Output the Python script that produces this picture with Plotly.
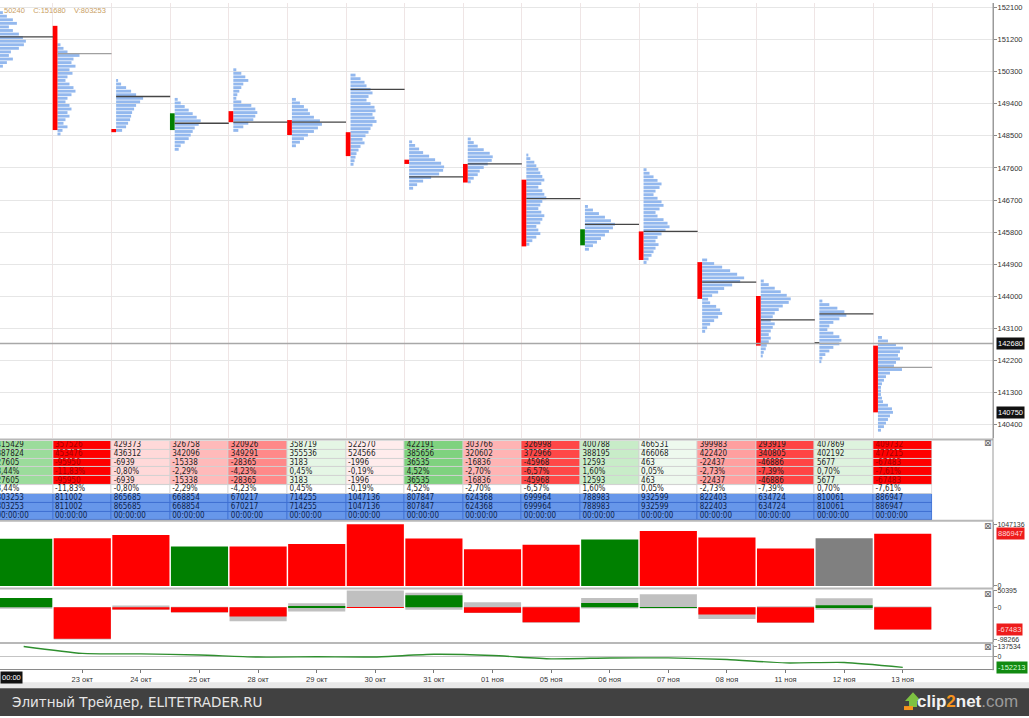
import plotly.graph_objects as go

W, H = 1029, 718
def px(x): return x / W
def py(y): return 1 - y / H

# ---------------- data ----------------
days = ["22 окт", "23 окт", "24 окт", "25 окт", "28 окт", "29 окт", "30 окт", "31 окт",
        "01 ноя", "05 ноя", "06 ноя", "07 ноя", "08 ноя", "11 ноя", "12 ноя", "13 ноя"]
first_label = "00:00"

opens = [150900, 151580, 148690, 148660, 149190, 148940, 148600, 147830,
         147710, 147270, 145430, 145820, 144960, 144010, 142700, 142620]
closes = [151680, 148660, 148600, 149130, 148880, 148520, 147930, 147710,
          147190, 145400, 145880, 145020, 143930, 142620, 142670, 140750]
poc = [151270, 150800, 149600, 148850, 148880, 148880, 149800, 147350,
       147710, 146740, 146020, 145820, 144400, 143340, 143510, 142010]

profile_top = [151950, 151050, 150050, 149520, 150350, 149520, 150200, 148330,
               148410, 147960, 146520, 147550, 145020, 144430, 143870, 142850]
profiles = [
    [4, 8, 14, 18, 10, 14, 20, 24, 27, 25, 20, 12, 10, 14, 8, 4],
    [3, 6, 10, 22, 16, 14, 18, 12, 15, 10, 8, 12, 16, 18, 14, 10, 8, 12, 14, 10, 12, 8, 6, 10, 5, 3],
    [2, 5, 10, 15, 20, 27, 24, 20, 18, 16, 15, 14, 12, 10, 6],
    [3, 6, 10, 14, 18, 22, 26, 24, 20, 18, 16, 14, 10, 6, 4],
    [3, 8, 12, 15, 10, 8, 6, 4, 3, 8, 18, 22, 24, 22, 20, 15, 10, 5],
    [4, 8, 12, 16, 18, 22, 28, 30, 26, 22, 16, 12, 8, 4],
    [5, 10, 14, 16, 20, 22, 18, 16, 20, 24, 25, 22, 24, 26, 22, 20, 18, 15, 12, 14, 10, 8, 6, 5, 4, 3],
    [3, 6, 10, 14, 20, 26, 32, 35, 34, 30, 22, 14, 8, 4],
    [3, 6, 10, 16, 22, 25, 24, 20, 16, 12, 10, 6, 3],
    [2, 4, 8, 10, 12, 14, 16, 18, 15, 12, 16, 18, 20, 16, 14, 12, 15, 18, 16, 14, 10, 12, 14, 10, 6, 3],
    [3, 8, 14, 20, 26, 30, 28, 24, 20, 16, 12, 8, 4],
    [3, 6, 10, 14, 18, 16, 12, 10, 14, 18, 20, 16, 12, 14, 20, 24, 26, 22, 18, 14, 12, 15, 12, 10, 8, 5, 3],
    [5, 12, 20, 28, 35, 42, 38, 30, 22, 16, 10, 6, 8, 14, 18, 20, 16, 12, 8, 5, 3],
    [3, 8, 14, 20, 26, 30, 28, 22, 18, 14, 12, 10, 14, 12, 10, 8, 10, 8, 6, 5, 3, 2],
    [3, 10, 18, 25, 27, 20, 14, 10, 8, 14, 20, 22, 20, 14, 10, 6, 3, 2],
    [4, 10, 18, 25, 22, 20, 22, 18, 16, 24, 12, 8, 6, 4, 3, 3, 3, 4, 5, 10, 14, 15, 12, 10, 8, 6, 3],
]

buy = [415429, 357526, 429373, 326758, 320926, 358719, 522570, 422191,
       303766, 326998, 400788, 466531, 399983, 293919, 407869, 409732]
sell = [387824, 453476, 436312, 342096, 349291, 355536, 524566, 385656,
        320602, 372966, 388195, 466068, 422420, 340805, 402192, 477215]
delta = [27605, -95950, -6939, -15338, -28365, 3183, -1996, 36535,
         -16836, -45968, 12593, 463, -22437, -46886, 5677, -67483]
volume = [803253, 811002, 865685, 668854, 670217, 714255, 1047136, 807847,
          624368, 699964, 788983, 932599, 822403, 634724, 810061, 886947]
delta_low = [-5000, -98266, -8000, -16500, -43000, -13000, -2500, -8000,
             -17500, -47000, -4000, -4000, -36000, -48000, -8000, -68000]
delta_high = [27605, 0, 5000, 1000, 0, 12000, 50395, 44000,
              15000, 2000, 28000, 39000, 0, 3000, 27000, 2000]
cum_delta = [137534, 41584, 34645, 19307, -9058, -5875, -7871, 28664,
             11828, -34140, -21547, -21084, -43521, -90407, -84730, -152213]
price_ticks = [140400, 141300, 142200, 143100, 144000, 144900, 145800, 146700,
               147600, 148500, 149400, 150300, 151200, 152100]
volume_ticks = [0, 1047136]
delta_ticks = [-98266, 0, 50395]
cum_ticks = [0, 137534]
last_price = 142680
low_price = 140750
header = "50240    C:151680    V:803253"

# ---------------- styling constants ----------------
N = len(days)
XR = [-0.404, 16.54]
PROFILE_STEP = 100
PROFILE_SCALE = 1 / 58.6
CANDLE_OFF = 0.036
CANDLE_W = 0.08
PROF_OFF = 0.077
RED, GREEN, GRAY = "#ff0000", "#008000", "#808080"
NARROW = "Liberation Sans Narrow, Arial Narrow, DejaVu Sans Condensed, Liberation Sans, sans-serif"
AXF = dict(family="Liberation Sans, Arial, sans-serif", size=7.5, color="#333333")
AXF_S = dict(family="Liberation Sans, Arial, sans-serif", size=7, color="#333333")

def is_doji(o, c):
    return abs(c - o) <= 30

def candle_color(o, c):
    if is_doji(o, c):
        return "#444444"
    return GREEN if c > o else RED

def vol_color(o, c):
    if is_doji(o, c):
        return GRAY
    return GREEN if c > o else RED

fig = go.Figure()

# ---- price panel: volume profiles ----
py_, px_, pb_ = [], [], []
for i in range(N):
    for k, v in enumerate(profiles[i]):
        py_.append(profile_top[i] - k * PROFILE_STEP)
        px_.append(v * PROFILE_SCALE)
        pb_.append(i - 0.5 + PROF_OFF)
fig.add_trace(go.Bar(orientation="h", y=py_, x=px_, base=pb_, width=80,
                     marker=dict(color="#93b8ee", line=dict(width=0)),
                     xaxis="x", yaxis="y", hoverinfo="skip"))

# candles
fig.add_trace(go.Bar(x=[i - 0.5 + CANDLE_OFF for i in range(N)],
                     base=[min(o, c) for o, c in zip(opens, closes)],
                     y=[abs(c - o) for o, c in zip(opens, closes)],
                     width=CANDLE_W,
                     marker=dict(color=[candle_color(o, c) for o, c in zip(opens, closes)], line=dict(width=0)),
                     xaxis="x", yaxis="y", hoverinfo="skip"))

# POC lines
LIGHT_POC = {1, 15}
for light in (False, True):
    xs, ys = [], []
    for i in range(N):
        if (i in LIGHT_POC) != light:
            continue
        xs += [i - 0.5 + PROF_OFF, i + 0.5, None]
        ys += [poc[i], poc[i], None]
    fig.add_trace(go.Scatter(x=xs, y=ys, mode="lines",
                             line=dict(color="#a0a0a0" if light else "#454545", width=1.3),
                             xaxis="x", yaxis="y", hoverinfo="skip"))

# ---- table ----
fig.add_trace(go.Heatmap(z=[delta] * 5, x=list(range(N)), y=[0, 1, 2, 3, 4],
                         zmin=-65000, zmax=65000,
                         colorscale=[[0, "#ff0000"], [0.4999, "#fff3f3"], [0.5001, "#eff9ef"], [1, "#28b428"]],
                         showscale=False, xgap=1, ygap=1, xaxis="x2", yaxis="y2", hoverinfo="skip"))
fig.add_trace(go.Heatmap(z=[[0] * N], x=list(range(N)), y=[5],
                         colorscale=[[0, "#ffffff"], [1, "#ffffff"]],
                         showscale=False, xgap=1, ygap=1, xaxis="x2", yaxis="y2", hoverinfo="skip"))
fig.add_trace(go.Heatmap(z=[[0] * N] * 3, x=list(range(N)), y=[6, 7, 8],
                         colorscale=[[0, "#6797ea"], [1, "#6797ea"]],
                         showscale=False, xgap=1, ygap=1, xaxis="x2", yaxis="y2", hoverinfo="skip"))

def fmt_pct(d, v):
    return f"{d / v * 100:.2f}%".replace(".", ",")

pct = [fmt_pct(d, v) for d, v in zip(delta, volume)]
rows = [[str(b) for b in buy], [str(s) for s in sell], [str(d) for d in delta], pct,
        [str(d) for d in delta], pct, [str(v) for v in volume], [str(v) for v in volume],
        ["00:00:00"] * N]
tx, ty, tt, tc = [], [], [], []
for r, row in enumerate(rows):
    for i, t in enumerate(row):
        tx.append(i - 0.5 + 0.035)
        ty.append(r)
        tt.append(t)
        if r <= 4 and delta[i] <= -60000:
            tc.append("#a00000")
        elif r >= 6:
            tc.append("#0d1f4a")
        else:
            tc.append("#1e1e1e")
fig.add_trace(go.Scatter(x=tx, y=ty, text=tt, mode="text", textposition="middle right",
                         textfont=dict(family=NARROW, size=8, color=tc), cliponaxis=True,
                         xaxis="x2", yaxis="y2", hoverinfo="skip"))

# ---- volume panel ----
fig.add_trace(go.Bar(x=list(range(N)), y=volume, width=0.975,
                     marker=dict(color=[vol_color(o, c) for o, c in zip(opens, closes)], line=dict(width=0)),
                     xaxis="x3", yaxis="y3", hoverinfo="skip"))

# ---- delta panel ----
fig.add_trace(go.Bar(x=list(range(N)), base=delta_low, y=[h - l for h, l in zip(delta_high, delta_low)],
                     width=0.975, marker=dict(color="#c0c0c0", line=dict(width=0)),
                     xaxis="x4", yaxis="y4", hoverinfo="skip"))
fig.add_trace(go.Bar(x=list(range(N)), y=delta, width=0.975,
                     marker=dict(color=[GREEN if d > 0 else RED for d in delta], line=dict(width=0)),
                     xaxis="x4", yaxis="y4", hoverinfo="skip"))

# ---- cumulative delta line ----
fig.add_trace(go.Scatter(x=list(range(N)), y=cum_delta, mode="lines",
                         line=dict(color="#2f8f2f", width=1.4, shape="spline", smoothing=0.6),
                         xaxis="x5", yaxis="y5", hoverinfo="skip"))

# ---------------- layout ----------------
XD = [0, px(993)]
hidden_x = dict(domain=XD, range=XR, visible=False, fixedrange=True)
RAX = dict(side="right", ticks="outside", ticklen=3, tickcolor="#8a8a8a", tickfont=AXF,
           ticklabelstandoff=-1, zeroline=False, showline=True, linecolor="#9a9a9a")
layout = dict(
    width=W, height=H, margin=dict(l=0, r=0, t=0, b=0, pad=0),
    paper_bgcolor="#ffffff", plot_bgcolor="#ffffff",
    showlegend=False, barmode="overlay", hovermode=False,
    xaxis=dict(domain=XD, range=XR, anchor="y", tickvals=[i + 0.5 for i in range(N)],
               showticklabels=False, ticks="", showgrid=True, gridcolor="#efe5e5",
               gridwidth=1, zeroline=False, showline=False),
    yaxis=dict(RAX, domain=[py(438), 1], range=[140033, 152220], anchor="x",
               tickvals=price_ticks, ticktext=[str(t) for t in price_ticks],
               showgrid=True, gridcolor="#e6e6e6"),
    xaxis2=dict(hidden_x, anchor="y2"),
    yaxis2=dict(domain=[py(521), py(441)], range=[8.5, -0.5], anchor="x2", visible=False),
    xaxis3=dict(hidden_x, anchor="y3"),
    yaxis3=dict(RAX, domain=[py(588), py(523)], range=[-16889, 1080914], anchor="x3",
                tickvals=volume_ticks, ticktext=[str(t) for t in volume_ticks],
                tickfont=AXF_S, showgrid=False),
    xaxis4=dict(hidden_x, anchor="y4"),
    yaxis4=dict(RAX, domain=[py(643), py(591)], range=[-104296, 52506], anchor="x4",
                tickvals=delta_ticks, ticktext=[str(t) for t in delta_ticks],
                tickfont=AXF_S, showgrid=False),
    xaxis5=dict(domain=XD, range=XR, anchor="y5", tickvals=list(range(1, N)),
                ticktext=days[1:], ticks="outside", ticklen=3, tickcolor="#777777",
                tickfont=AXF, showgrid=False, zeroline=False, showline=True,
                linecolor="#8a8a8a", linewidth=1),
    yaxis5=dict(RAX, domain=[py(671), py(646)], range=[-179719, 165040], anchor="x5",
                tickvals=cum_ticks, ticktext=[str(t) for t in cum_ticks],
                tickfont=AXF_S, showgrid=False),
)
layout["yaxis5"].update(zeroline=True, zerolinecolor="#c4c4c4", zerolinewidth=1)
fig.update_layout(**layout)

shapes = []
# table cell border backgrounds
shapes.append(dict(type="rect", xref="x2", yref="y2", x0=-0.5, x1=N - 0.5, y0=-0.5, y1=5.5,
                   fillcolor="#d2d2d2", line=dict(width=0), layer="below"))
shapes.append(dict(type="rect", xref="x2", yref="y2", x0=-0.5, x1=N - 0.5, y0=5.5, y1=8.5,
                   fillcolor="#3e6fd2", line=dict(width=0), layer="below"))
# current price line
shapes.append(dict(type="line", xref="paper", yref="y", x0=0, x1=px(993), y0=last_price, y1=last_price,
                   line=dict(color="#a8a8a8", width=1.5)))
# panel separators
for yy in (439.5, 521.5, 589.5, 644.5):
    shapes.append(dict(type="line", xref="paper", yref="paper", x0=0, x1=px(993), y0=py(yy), y1=py(yy),
                       line=dict(color="#b8b8b8", width=2)))
# right axis continuous line
shapes.append(dict(type="line", xref="paper", yref="paper", x0=px(993), x1=px(993), y0=py(0), y1=py(672),
                   line=dict(color="#9a9a9a", width=1)))
# bottom strips
shapes.append(dict(type="rect", xref="paper", yref="paper", x0=0, x1=1, y0=py(690), y1=py(684),
                   fillcolor="#e9e9e9", line=dict(width=0)))
shapes.append(dict(type="rect", xref="paper", yref="paper", x0=0, x1=1, y0=0, y1=py(690),
                   fillcolor="#414141", line=dict(width=0)))
# clip2net arrow icon
shapes.append(dict(type="path", xref="paper", yref="paper",
                   path=f"M {px(905)},{py(703)} L {px(913)},{py(694)} L {px(921)},{py(703)} "
                        f"L {px(917)},{py(703)} L {px(917)},{py(709)} L {px(909)},{py(709)} "
                        f"L {px(909)},{py(703)} Z",
                   fillcolor="#7dc242", line=dict(width=0)))
shapes.append(dict(type="rect", xref="paper", yref="paper", x0=px(904), x1=px(913), y0=py(712), y1=py(708),
                   fillcolor="#f7941d", line=dict(width=0)))
fig.update_layout(shapes=shapes)

ann = []
ann.append(dict(text=header, xref="paper", yref="paper", x=px(2), y=py(1), xanchor="left", yanchor="top",
                showarrow=False, font=dict(family="Liberation Sans, Arial", size=7.5, color="#c9a064")))
def box(text, yref, yval, bg, fg):
    return dict(text=text, xref="paper", yref=yref, x=px(996), y=yval, xanchor="left", yanchor="middle",
                showarrow=False, bgcolor=bg, borderpad=1,
                font=dict(family="Liberation Sans, Arial", size=7.5, color=fg))
ann.append(box(str(last_price), "y", last_price, "#111111", "#ffffff"))
ann.append(box(str(low_price), "y", low_price, "#111111", "#ffffff"))
ann.append(box(str(volume[-1]), "y3", volume[-1], "#ee1c1c", "#ffd8d8"))
ann.append(box(str(delta[-1]), "y4", delta[-1], "#ee1c1c", "#ffd8d8"))
ann.append(box(str(cum_delta[-1]), "y5", cum_delta[-1], "#118a11", "#d8ffd8"))
ann.append(dict(text=first_label, xref="paper", yref="paper", x=0, y=py(679), xanchor="left",
                yanchor="middle", showarrow=False, bgcolor="#111111", borderpad=1,
                font=dict(family="Liberation Sans, Arial", size=7.5, color="#ffffff")))
for yy in (443, 527, 595, 649):
    ann.append(dict(text="⊠", xref="paper", yref="paper", x=px(988), y=py(yy), showarrow=False,
                    xanchor="center", yanchor="middle",
                    font=dict(family="DejaVu Sans", size=9, color="#666666")))
ann.append(dict(text="Элитный Трейдер, ELITETRADER.RU", xref="paper", yref="paper", x=px(10), y=py(704),
                xanchor="left", yanchor="middle", showarrow=False,
                font=dict(family="DejaVu Sans", size=13.5, color="#e6e6e6")))
ann.append(dict(text="<b>clip</b><b><span style='color:#f7941d'>2</span></b><b>net</b><span style='color:#9a9a9a'>.com</span>",
                xref="paper", yref="paper", x=px(1020), y=py(703), xanchor="right", yanchor="middle",
                showarrow=False, font=dict(family="Liberation Sans, Arial", size=17, color="#f2f2f2")))
fig.update_layout(annotations=ann)

fig.write_html("out.html", config={"displayModeBar": False},
               post_script="document.body.style.margin='0px';document.body.style.overflow='hidden';")
